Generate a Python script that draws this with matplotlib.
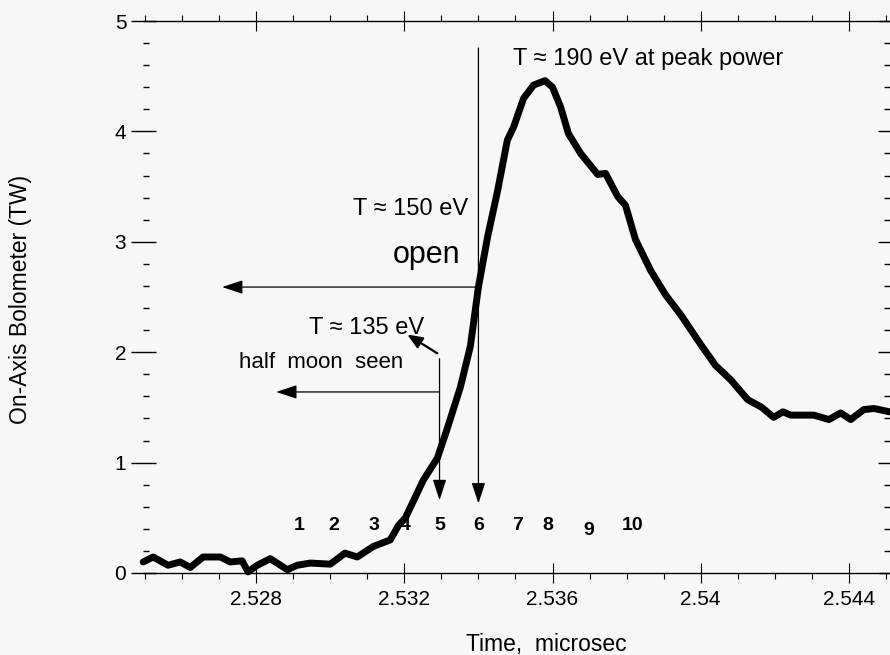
import matplotlib
matplotlib.use('Agg')
import matplotlib.pyplot as plt
from matplotlib.ticker import MultipleLocator, FixedLocator, FixedFormatter

# bolometer trace
time_us = [2.52495, 2.52522, 2.52562, 2.52595, 2.52622, 2.52657, 2.52703, 2.5273,
           2.52762, 2.52778, 2.52803, 2.52838, 2.52884, 2.52911, 2.52946, 2.5300,
           2.5304, 2.53073, 2.53116, 2.53162, 2.53184, 2.53203, 2.53251, 2.53289,
           2.53316, 2.53351, 2.53378, 2.5340, 2.53425, 2.53451, 2.53478, 2.53495,
           2.53522, 2.53549, 2.5358, 2.5360, 2.53622, 2.53643, 2.53676, 2.53722,
           2.53743, 2.53776, 2.53797, 2.53824, 2.53865, 2.53905, 2.53946, 2.5400,
           2.5404, 2.54081, 2.54127, 2.54165, 2.54197, 2.54222, 2.54243, 2.54305,
           2.54346, 2.54378, 2.54405, 2.5444, 2.54468, 2.5451]
power_tw = [0.10, 0.145, 0.07, 0.10, 0.05, 0.145, 0.145, 0.10,
            0.11, 0.01, 0.07, 0.13, 0.03, 0.07, 0.09, 0.08,
            0.18, 0.145, 0.24, 0.30, 0.43, 0.50, 0.84, 1.04,
            1.31, 1.68, 2.05, 2.59, 3.05, 3.45, 3.92, 4.04,
            4.30, 4.42, 4.46, 4.40, 4.22, 3.98, 3.80, 3.61,
            3.62, 3.41, 3.33, 3.02, 2.74, 2.52, 2.34, 2.07,
            1.88, 1.75, 1.57, 1.50, 1.41, 1.46, 1.43, 1.43,
            1.39, 1.45, 1.39, 1.48, 1.49, 1.46]

# frame numbers along the rise
frame_labels = ['1', '2', '3', '4', '5', '6', '7', '8', '9', '10']
frame_x = [2.52916, 2.5301, 2.53118, 2.53203, 2.53297, 2.5340, 2.53505, 2.53586, 2.53697, 2.53816]
frame_y = [0.39, 0.39, 0.39, 0.39, 0.39, 0.39, 0.39, 0.39, 0.345, 0.39]

xticks = [2.528, 2.532, 2.536, 2.540, 2.544]
xtick_labels = ['2.528', '2.532', '2.536', '2.54', '2.544']
yticks = [0, 1, 2, 3, 4, 5]

t_open = 2.5340
t_half = 2.53295

fam = ['Liberation Sans', 'DejaVu Sans']
plt.rcParams['font.family'] = fam
bg = '#f7f7f7'

fig = plt.figure(figsize=(8.9, 6.55), dpi=100, facecolor=bg)
ax = fig.add_axes([0.1607, 0.1252, 1.0 - 0.1607, 0.9679 - 0.1252])
ax.set_facecolor(bg)

ax.plot(time_us, power_tw, color='black', lw=5.0, solid_joinstyle='round',
        solid_capstyle='round', clip_on=False)

ax.set_xlim(2.524946, 2.54511)
ax.set_ylim(0, 5)

ax.xaxis.set_major_locator(FixedLocator(xticks))
ax.xaxis.set_major_formatter(FixedFormatter(xtick_labels))
ax.xaxis.set_minor_locator(MultipleLocator(0.001))
ax.yaxis.set_major_locator(FixedLocator(yticks))
ax.yaxis.set_minor_locator(MultipleLocator(0.2))

for s in ['left', 'right']:
    ax.spines[s].set_visible(False)
for s in ['top', 'bottom']:
    ax.spines[s].set_linewidth(1.0)

ax.tick_params(axis='x', which='major', direction='inout', length=15, width=0.8,
               top=True, bottom=True, labelsize=15, pad=5)
ax.tick_params(axis='x', which='minor', direction='out', length=4, width=0.8,
               top=True, bottom=True)
ax.tick_params(axis='y', which='major', direction='inout', length=18, width=1.0,
               left=True, right=True, labelsize=15, pad=3)
ax.tick_params(axis='y', which='minor', direction='in', length=4, width=1.0,
               left=True, right=True)

ax.set_xlabel('Time,  microsec', fontsize=16.5)
ax.xaxis.set_label_coords(0.54, -0.108)
ax.set_ylabel('On-Axis Bolometer (TW)', fontsize=16.5)
ax.yaxis.set_label_coords(-0.149, 0.495)

# arrows
thin = dict(arrowstyle='-|>,head_length=0.85,head_width=0.28', color='black',
            lw=0.9, mutation_scale=15, shrinkA=0, shrinkB=0)
ax.annotate('', xy=(t_open, 0.63), xytext=(t_open, 4.755), arrowprops=thin)
ax.annotate('', xy=(2.52708, 2.59), xytext=(t_open, 2.59), arrowprops=thin)
ax.annotate('', xy=(t_half, 0.66), xytext=(t_half, 1.94), arrowprops=thin)
ax.annotate('', xy=(2.52854, 1.64), xytext=(t_half, 1.64), arrowprops=thin)
ax.annotate('', xy=(2.53208, 2.16), xytext=(2.53289, 1.99),
            arrowprops=dict(arrowstyle='-|>,head_length=0.6,head_width=0.25',
                            color='black', lw=1.6, mutation_scale=15,
                            shrinkA=0, shrinkB=0))

# annotations
ax.text(2.53492, 4.60, 'T \u2248 190 eV at peak power', fontsize=17, ha='left', va='baseline')
ax.text(2.53373, 3.243, 'T \u2248 150 eV', fontsize=17, ha='right', va='baseline')
ax.text(2.53351, 2.808, 'open', fontsize=22, ha='right', va='baseline')
ax.text(2.53254, 2.165, 'T \u2248 135 eV', fontsize=17, ha='right', va='baseline')
ax.text(2.53197, 1.857, 'half  moon  seen', fontsize=16, ha='right', va='baseline')

for lab, fx, fy in zip(frame_labels, frame_x, frame_y):
    ax.text(fx, fy, lab, fontsize=14, fontweight='bold', ha='center', va='baseline')

fig.savefig('out.png', dpi=100, facecolor=bg)
